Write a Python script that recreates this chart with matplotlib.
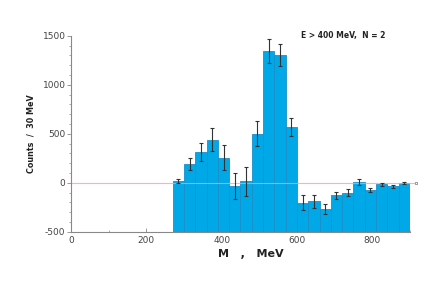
import matplotlib.pyplot as plt
import numpy as np
from matplotlib.ticker import MultipleLocator

plt.rcParams['axes.unicode_minus'] = False

# bin edges 270..900 MeV, 30 MeV wide
bin_left = [270, 300, 330, 360, 390, 420, 450, 480, 510, 540, 570,
            600, 630, 660, 690, 720, 750, 780, 810, 840, 870]
counts = [15, 188, 312, 440, 255, -34, 13, 502, 1345, 1303, 568,
          -205, -190, -270, -130, -100, 7, -72, -15, -38, -2]
errors = [20, 60, 90, 115, 130, 135, 145, 128, 122, 109, 94,
          77, 63, 51, 39, 36, 29, 22, 17, 15, 10]
bin_width = 30
y_floor = -500

fig = plt.figure(figsize=(4.36, 2.92), dpi=100)
ax = fig.add_axes([0.163, 0.2065, 0.777, 0.671])

centers = np.array(bin_left) + bin_width / 2
heights = np.array(counts) - y_floor
ax.bar(bin_left, heights, bottom=y_floor, width=bin_width, align='edge',
       color='#00a8e8', edgecolor='#1a8fc8', linewidth=0.6, zorder=2)
ax.errorbar(centers, counts, yerr=errors, fmt='none', ecolor='#333333',
            elinewidth=0.8, capsize=1.5, capthick=0.8, zorder=4)

# zero reference line
ax.plot([0, 912], [0, 0], color='#f4a0a8', linewidth=0.8, alpha=0.8, zorder=3, clip_on=False)
ax.plot([916], [0], marker='s', ms=2, mfc='none', mec='#888888', mew=0.6, clip_on=False)

ax.set_xlim(0, 900)
ax.set_ylim(-500, 1500)
ax.xaxis.set_major_locator(MultipleLocator(200))
ax.xaxis.set_minor_locator(MultipleLocator(100))
ax.yaxis.set_major_locator(MultipleLocator(500))
ax.yaxis.set_minor_locator(MultipleLocator(100))

for s in ['top', 'right']:
    ax.spines[s].set_visible(False)
for s in ['left', 'bottom']:
    ax.spines[s].set_color('#888888')
    ax.spines[s].set_linewidth(0.8)
    ax.spines[s].set_zorder(5)

ax.tick_params(axis='both', which='major', labelsize=6.5, labelcolor='#444444',
               color='#888888', length=3, width=0.6)
ax.tick_params(axis='both', which='minor', color='#888888', length=1.5, width=0.5)
ax.tick_params(axis='x', which='both', direction='in', pad=3)
ax.tick_params(axis='y', which='both', direction='out', pad=1)

ax.set_xlabel('M   ,   MeV', fontsize=8, fontweight='bold', color='#222222')
ax.xaxis.set_label_coords(0.53, -0.09)
ax.set_ylabel('Counts  /  30 MeV', fontsize=5.8, fontweight='bold', color='#222222')
ax.yaxis.set_label_coords(-0.105, 0.5)

fig.text(0.885, 0.88, 'E > 400 MeV,  N = 2', fontsize=5.5, fontweight='bold',
         color='#222222', ha='right', va='center')

fig.savefig('out.png', dpi=100)
